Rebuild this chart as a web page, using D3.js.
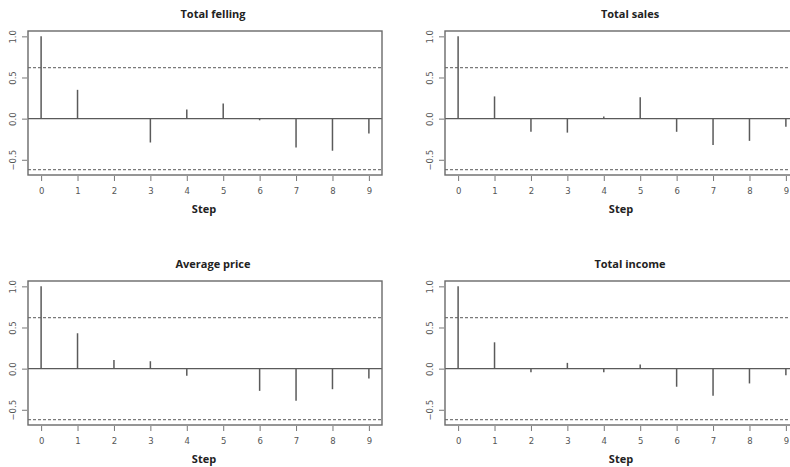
<!DOCTYPE html>
<html>
<head>
<meta charset="utf-8">
<script src="https://cdn.jsdelivr.net/npm/d3@7"></script>
<style>
  body { margin: 0; background: #fff; }
  svg { display: block; }
  .title, .xlab { font-family: "Open Sans", sans-serif; font-weight: bold; font-size: 11px; fill: #222; }
  .tick-label { font-family: "DejaVu Sans", sans-serif; font-size: 8.5px; fill: #555; }
</style>
</head>
<body>
<div id="svg"></div>
<script>
var width = 790, height = 467;

// data
var lags = [0, 1, 2, 3, 4, 5, 6, 7, 8, 9];
var titles = ["Total felling", "Total sales", "Average price", "Total income"];
var fellingAcf = [1.0, 0.35, 0.0, -0.29, 0.11, 0.185, -0.02, -0.35, -0.39, -0.18];
var salesAcf   = [1.0, 0.27, -0.16, -0.17, 0.025, 0.26, -0.16, -0.32, -0.27, -0.10];
var priceAcf   = [1.0, 0.43, 0.105, 0.09, -0.085, 0.005, -0.27, -0.39, -0.25, -0.12];
var incomeAcf  = [1.0, 0.32, -0.045, 0.07, -0.045, 0.05, -0.22, -0.33, -0.18, -0.08];
var confLimit = 0.62;
var yTicks = [-0.5, 0.0, 0.5, 1.0];
var xLabel = "Step";

var series = [fellingAcf, salesAcf, priceAcf, incomeAcf];

// panel boxes (left, top, right, bottom)
var boxes = [
    {x0: 28,  y0: 31,  x1: 382, y1: 175},
    {x0: 445, y0: 31,  x1: 799, y1: 175},
    {x0: 28,  y0: 281, x1: 382, y1: 425},
    {x0: 445, y0: 281, x1: 799, y1: 425}
];

var svg = d3.select("#svg")
    .append("svg")
    .attr("width", width)
    .attr("height", height);

var lineColor = "#5a5a5a";

for (var p = 0; p < 4; p++) {
    var b = boxes[p];
    var vals = series[p];

    // R style 4% padding on both axes
    var x = d3.scaleLinear().domain([-0.36, 9.36]).range([b.x0, b.x1]);
    var y = d3.scaleLinear().domain([-confLimit - 0.065, 1.065]).range([b.y1, b.y0]);

    var g = svg.append("g");

    // confidence band
    [confLimit, -confLimit].forEach(function(c) {
        g.append("line")
            .attr("x1", b.x0).attr("x2", b.x1)
            .attr("y1", y(c)).attr("y2", y(c))
            .attr("stroke", "#7a7a7a")
            .attr("stroke-width", 1.2)
            .attr("stroke-dasharray", "3,2");
    });

    // zero line
    g.append("line")
        .attr("x1", b.x0).attr("x2", b.x1)
        .attr("y1", y(0)).attr("y2", y(0))
        .attr("stroke", lineColor)
        .attr("stroke-width", 1.4);

    // acf spikes
    g.selectAll(".spike")
        .data(lags)
        .enter().append("line")
        .attr("class", "spike")
        .attr("x1", function(d) { return x(d); })
        .attr("x2", function(d) { return x(d); })
        .attr("y1", y(0))
        .attr("y2", function(d) { return y(vals[d]); })
        .attr("stroke", lineColor)
        .attr("stroke-width", 1.5);

    // box
    g.append("rect")
        .attr("x", b.x0).attr("y", b.y0)
        .attr("width", b.x1 - b.x0).attr("height", b.y1 - b.y0)
        .attr("fill", "none")
        .attr("stroke", "#6a6a6a")
        .attr("stroke-width", 1.4);

    // x axis
    var xAxis = d3.axisBottom(x).tickValues(lags).tickSize(5).tickPadding(7)
        .tickFormat(d3.format("d"));
    var xg = g.append("g")
        .attr("transform", "translate(0," + (b.y1 + 1) + ")")
        .call(xAxis);
    xg.select(".domain").remove();
    xg.selectAll(".tick line").attr("stroke", "#777");
    xg.selectAll(".tick text").attr("class", "tick-label").attr("font-family", null).attr("font-size", null);

    // y axis, labels rotated like R
    var yAxis = d3.axisLeft(y).tickValues(yTicks).tickSize(5).tickFormat(d3.format(".1f"));
    var yg = g.append("g")
        .attr("transform", "translate(" + (b.x0 - 1) + ",0)")
        .call(yAxis);
    yg.select(".domain").remove();
    yg.selectAll(".tick line").attr("stroke", "#777");
    yg.selectAll(".tick text")
        .attr("class", "tick-label")
        .attr("font-family", null).attr("font-size", null)
        .attr("x", null).attr("dy", null)
        .attr("text-anchor", "middle")
        .attr("transform", "translate(-14,0) rotate(-90)")
        .attr("y", 3);

    // title, sits a little right of the box centre
    g.append("text")
        .attr("class", "title")
        .attr("x", (b.x0 + b.x0 + 354) / 2 + 8)
        .attr("y", b.y0 - 13)
        .attr("text-anchor", "middle")
        .text(titles[p]);

    // x label
    g.append("text")
        .attr("class", "xlab")
        .attr("x", x(4.5) - 1)
        .attr("y", b.y1 + 38)
        .attr("text-anchor", "middle")
        .text(xLabel);
}
</script>
</body>
</html>
